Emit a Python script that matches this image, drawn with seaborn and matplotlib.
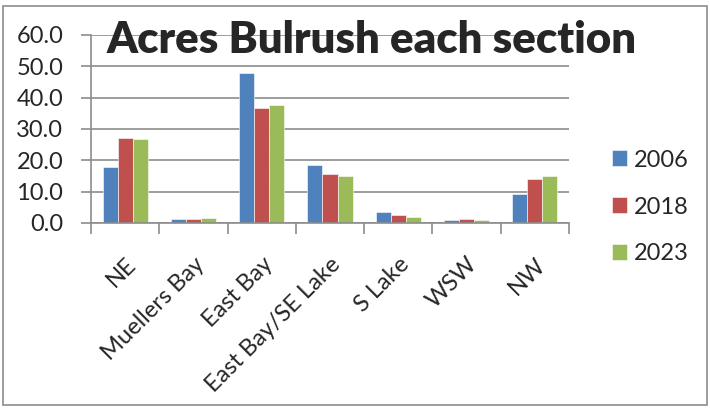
import matplotlib
matplotlib.use("Agg")
import matplotlib.pyplot as plt
import seaborn as sns
import pandas as pd
from matplotlib.patches import Rectangle

sections = ["NE", "Muellers Bay", "East Bay", "East Bay/SE Lake", "S Lake", "WSW", "NW"]
years = ["2006", "2018", "2023"]
acres_2006 = [18.0, 1.4, 47.8, 18.4, 3.4, 0.8, 9.2]
acres_2018 = [27.2, 1.3, 36.6, 15.5, 2.7, 1.4, 14.2]
acres_2023 = [26.9, 1.5, 37.5, 15.1, 2.0, 1.1, 15.0]
colors = ["#4F81BD", "#C0504D", "#9BBB59"]

rows = []
for yr, vals in zip(years, [acres_2006, acres_2018, acres_2023]):
    for s, v in zip(sections, vals):
        rows.append({"Section": s, "Year": yr, "Acres": v})
df = pd.DataFrame(rows)

sns.set_theme(style="white")
plt.rcParams["font.family"] = ["Lato", "DejaVu Sans"]

fig = plt.figure(figsize=(7.10, 4.08), dpi=100)
ax = fig.add_axes([91/710, 1 - 223/408, (569-91)/710, (223-35)/408])

sns.barplot(data=df, x="Section", y="Acres", hue="Year", order=sections,
            hue_order=years, palette=colors, saturation=1, width=0.66, gap=0,
            edgecolor="white", linewidth=0.4, ax=ax, errorbar=None)

ax.set_ylim(0, 60)
ax.set_xlim(-0.5, len(sections) - 0.5)
ax.set_yticks(range(0, 61, 10))
ax.set_yticklabels([f"{v:.1f}" for v in range(0, 61, 10)], fontsize=17)
ax.yaxis.grid(True, color="#8c8c8c", linewidth=1.2)
ax.set_axisbelow(True)
ax.set_xlabel("")
ax.set_ylabel("")
for sp in ["top", "right"]:
    ax.spines[sp].set_visible(False)
for sp in ["left", "bottom"]:
    ax.spines[sp].set_color("#8c8c8c")
    ax.spines[sp].set_linewidth(1.2)

ax.tick_params(axis="y", which="both", left=True, length=7, color="#8c8c8c", width=1.2, pad=13)
# category boundary ticks, labels at centres
ax.set_xticks([i - 0.5 for i in range(len(sections) + 1)], minor=False)
ax.set_xticklabels([""] * (len(sections) + 1))
ax.tick_params(axis="x", which="major", bottom=True, length=8, color="#8c8c8c", width=1.2)
ax.set_xticks(range(len(sections)), minor=True)
ax.set_xticklabels(sections, minor=True, rotation=45, ha="right",
                   rotation_mode="anchor", fontsize=17)
ax.tick_params(axis="x", which="minor", bottom=False, length=0, pad=22)

leg = ax.legend(loc="center left", bbox_to_anchor=(1.09, 0.085), frameon=False,
                fontsize=17, handlelength=0.64, handleheight=0.64,
                labelspacing=1.1, handletextpad=0.3, borderaxespad=0, borderpad=0)

fig.text(372/710, 1 - 40/408, "Acres Bulrush each section", ha="center",
         va="center", fontsize=31.5, fontweight="heavy")

fig.patches.append(Rectangle((3/710, 3/408), 704/710, 399/408, transform=fig.transFigure,
                             fill=False, edgecolor="#8c8c8c", linewidth=1.2))

fig.savefig("out.png", dpi=100)
